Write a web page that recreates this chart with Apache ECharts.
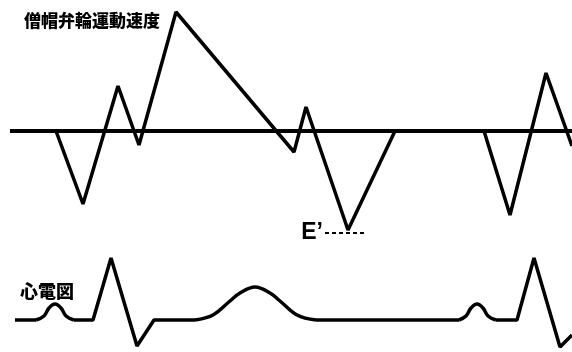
<!DOCTYPE html>
<html>
<head>
<meta charset="utf-8">
<script src="https://cdn.jsdelivr.net/npm/echarts@6/dist/echarts.min.js"></script>
<style>
  html, body { margin: 0; padding: 0; background: #fff; }
  #main { width: 572px; height: 352px; }
</style>
</head>
<body>
<div id="main"></div>
<script>
// mitral annulus velocity (tissue doppler), time vs velocity
var tdiTime = [56, 83, 118, 139, 176, 294, 306, 348, 395, 484, 510, 546, 572];
var tdiVel  = [0, -7.3, 4.5, -1.4, 11.9, -2.1, 2.4, -9.9, 0, 0, -8.4, 5.8, -1.5];
var baseTime = [10, 572];
var ePrime = { start: 325, end: 366, vel: -10.2 };

// ECG, time vs mV
var ecgTime = [15, 36, 44, 49, 55, 61, 66, 74, 93, 111, 137, 154, 195, 213, 230, 240, 255,
               270, 280, 297, 316, 459, 466, 471, 477, 483, 488, 496, 517, 534, 560, 572];
var ecgMv   = [0, 0, 0.08, 0.24, 0.32, 0.24, 0.08, 0, 0, 1.24, -0.52, 0, 0, 0.1, 0.38, 0.54, 0.66,
               0.54, 0.38, 0.1, 0, 0, 0.08, 0.24, 0.32, 0.24, 0.08, 0, 0, 1.24, -0.54, -0.3];
// index ranges of the rounded waves (P, T, P)
var ecgCurved = [[1, 7], [12, 20], [21, 27]];

var titles = ['僧帽弁輪運動速度', '心電図'];

var myChart = echarts.init(document.getElementById('main'));

function pts(xs, ys, a, b) {
  var out = [];
  for (var i = a; i <= b; i++) out.push([xs[i], ys[i]]);
  return out;
}

var lineStyle = { color: '#000', width: 3.5 };
var series = [];

series.push({
  type: 'line', xAxisIndex: 0, yAxisIndex: 0, symbol: 'none',
  lineStyle: { color: '#000', width: 4 },
  data: baseTime.map(function (t) { return [t, 0]; })
});
series.push({
  type: 'line', xAxisIndex: 0, yAxisIndex: 0, symbol: 'none',
  lineStyle: lineStyle,
  data: pts(tdiTime, tdiVel, 0, tdiTime.length - 1),
  markLine: {
    silent: true,
    symbol: 'none',
    lineStyle: { color: '#000', width: 2, type: [4, 3] },
    label: {
      show: true, position: 'start', formatter: 'E’', distance: 2,
      color: '#000', fontSize: 23, fontWeight: 'bold', fontFamily: 'Liberation Sans'
    },
    data: [[{ coord: [ePrime.start, ePrime.vel] }, { coord: [ePrime.end, ePrime.vel] }]]
  }
});

// ECG: straight pieces between the curved waves, curved waves smoothed
var cursor = 0;
ecgCurved.forEach(function (r) {
  series.push({
    type: 'line', xAxisIndex: 1, yAxisIndex: 1, symbol: 'none',
    lineStyle: lineStyle, data: pts(ecgTime, ecgMv, cursor, r[0])
  });
  series.push({
    type: 'line', xAxisIndex: 1, yAxisIndex: 1, symbol: 'none', smooth: 0.4,
    lineStyle: lineStyle, data: pts(ecgTime, ecgMv, r[0], r[1])
  });
  cursor = r[1];
});
series.push({
  type: 'line', xAxisIndex: 1, yAxisIndex: 1, symbol: 'none',
  lineStyle: lineStyle, data: pts(ecgTime, ecgMv, cursor, ecgTime.length - 1)
});

var option = {
  animation: false,
  backgroundColor: '#fff',
  title: [
    { text: titles[0], left: 19, top: 7,
      textStyle: { fontSize: 17, fontWeight: 900, color: '#000', fontFamily: 'Noto Sans CJK JP' } },
    { text: titles[1], left: 15, top: 277,
      textStyle: { fontSize: 18, fontWeight: 900, color: '#000', fontFamily: 'Noto Sans CJK JP' } }
  ],
  grid: [
    { left: 0, right: 0, top: 0, height: 262 },
    { left: 0, right: 0, top: 240, height: 112 }
  ],
  xAxis: [
    { type: 'value', gridIndex: 0, min: 0, max: 572, show: false },
    { type: 'value', gridIndex: 1, min: 0, max: 572, show: false }
  ],
  yAxis: [
    { type: 'value', gridIndex: 0, min: -13.1, max: 13.1, show: false },
    { type: 'value', gridIndex: 1, min: -0.64, max: 1.6, show: false }
  ],
  series: series
};

myChart.setOption(option);
</script>
</body>
</html>
